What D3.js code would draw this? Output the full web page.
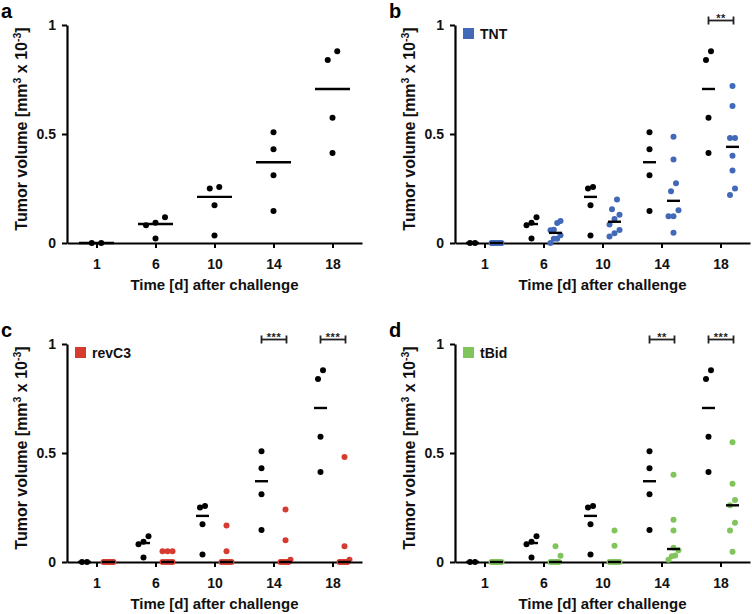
<!DOCTYPE html>
<html>
<head>
<meta charset="utf-8">
<script src="https://cdn.jsdelivr.net/npm/d3@7"></script>
<style>
  html, body { margin: 0; padding: 0; background: #fff; }
  svg { display: block; font-family: "Liberation Sans", Arial, sans-serif; }
</style>
</head>
<body>
<svg id="chart" width="752" height="614"></svg>
<script>
// ---------------- data ----------------
const days = ["1", "6", "10", "14", "18"];
const yTicks = [0, 0.5, 1];
const yTickLabels = ["0", "0.5", "1"];

const control = [
  [0, 0],
  [0.021, 0.081, 0.093, 0.118],
  [0.034, 0.173, 0.25, 0.257],
  [0.147, 0.311, 0.43, 0.508],
  [0.413, 0.574, 0.839, 0.88]
];
const tnt = [
  [0, 0, 0, 0, 0, 0, 0, 0],
  [0, 0.02, 0.02, 0.035, 0.058, 0.061, 0.092, 0.101],
  [0.03, 0.045, 0.06, 0.085, 0.11, 0.13, 0.155, 0.2],
  [0.047, 0.123, 0.123, 0.15, 0.237, 0.274, 0.383, 0.487],
  [0.22, 0.25, 0.332, 0.4, 0.482, 0.482, 0.628, 0.72]
];
const revC3 = [
  [0, 0, 0, 0, 0, 0, 0, 0],
  [0, 0, 0, 0, 0, 0.049, 0.049, 0.049],
  [0, 0, 0, 0, 0, 0, 0.049, 0.167],
  [0, 0, 0, 0, 0, 0.01, 0.1, 0.241],
  [0, 0, 0, 0, 0, 0.01, 0.072, 0.482]
];
const tBid = [
  [0, 0, 0, 0, 0, 0, 0, 0],
  [0, 0, 0, 0, 0, 0, 0.029, 0.072],
  [0, 0, 0, 0, 0, 0, 0.075, 0.145],
  [0.01, 0.026, 0.03, 0.054, 0.065, 0.145, 0.194, 0.4],
  [0.047, 0.144, 0.18, 0.26, 0.284, 0.359, 0.549]
];
const panelLetters = ["a", "b", "c", "d"];
const treatmentNames = [null, "TNT", "revC3", "tBid"];
const treatmentData = [null, tnt, revC3, tBid];
const treatmentColors = [null, "#4169b8", "#d63b30", "#80c55c"];
const significance = [
  [],
  [{ day: "18", label: "**" }],
  [{ day: "14", label: "***" }, { day: "18", label: "***" }],
  [{ day: "14", label: "**" }, { day: "18", label: "***" }]
];
const yTitleMain = "Tumor volume [mm";
const xTitle = "Time [d] after challenge";

// ---------------- layout ----------------
const panelOrigins = [[0, 0], [388, 0], [0, 319], [388, 319]];
const axisLeft = 67, axisRight = 362, axisTop = 25, axisBottom = 243;
const dotR = 3;

const svg = d3.select("#chart");

const x = d3.scalePoint().domain(days).range([axisLeft, axisRight]).padding(0.5);
const y = d3.scaleLinear().domain([0, 1]).range([axisBottom, axisTop]);

// Prism-like row spreading of dots with similar values
function swarm(values, spacing, rowH) {
  const idx = values.map((v, i) => i).sort((a, b) => values[a] - values[b]);
  const rows = [];
  let cur = null;
  idx.forEach(i => {
    const py = y(values[i]);
    if (cur && (cur.start - py) < rowH) cur.items.push(i);
    else { cur = { start: py, items: [i] }; rows.push(cur); }
  });
  const out = [];
  rows.forEach(r => {
    const n = r.items.length;
    const step = n > 1 ? Math.min(spacing, 2 * spacing / (n - 1)) : 0;
    r.items.forEach((i, k) => out.push({ v: values[i], dx: (k - (n - 1) / 2) * step }));
  });
  return out;
}

panelLetters.forEach((letter, p) => {
  const g = svg.append("g").attr("transform", `translate(${panelOrigins[p][0]},${panelOrigins[p][1]})`);
  const single = treatmentData[p] === null;
  const groupOff = single ? 0 : 12;
  const spacing = single ? 9.5 : 5;
  const medW = single ? 35 : 13;

  // panel letter
  g.append("text").attr("x", 1).attr("y", 18)
    .attr("font-size", 20).attr("font-weight", "bold").text(letter);

  // axes
  const xAxis = d3.axisBottom(x).tickSize(5).tickPadding(11).tickSizeOuter(0);
  const yAxis = d3.axisLeft(y).tickValues(yTicks).tickFormat((d, i) => yTickLabels[i])
    .tickSize(5).tickPadding(6).tickSizeOuter(0);

  const gx = g.append("g").attr("transform", `translate(0,${axisBottom})`).call(xAxis);
  const gy = g.append("g").attr("transform", `translate(${axisLeft},0)`).call(yAxis);
  [gx, gy].forEach(a => {
    a.select(".domain").attr("stroke", "#000").attr("stroke-width", 2.2);
    a.selectAll(".tick line").attr("stroke", "#000").attr("stroke-width", 2);
    a.selectAll(".tick text").attr("font-size", 14).attr("font-weight", "bold")
      .attr("fill", "#111").attr("font-family", "Liberation Sans, Arial, sans-serif");
  });

  // axis titles
  g.append("text").attr("x", (axisLeft + axisRight) / 2).attr("y", 290)
    .attr("text-anchor", "middle").attr("font-size", 15).attr("font-weight", "bold")
    .attr("fill", "#111").text(xTitle);

  const yt = g.append("text")
    .attr("transform", `translate(27,${(axisTop + axisBottom) / 2 - 5}) rotate(-90)`)
    .attr("text-anchor", "middle").attr("font-size", 16).attr("font-weight", "bold")
    .attr("fill", "#111");
  yt.append("tspan").text(yTitleMain);
  yt.append("tspan").attr("font-size", 10.5).attr("dy", -6).text("3");
  yt.append("tspan").attr("dy", 6).text(" x 10");
  yt.append("tspan").attr("font-size", 10.5).attr("dy", -6).text("-3");
  yt.append("tspan").attr("dy", 6).text("]");

  // groups
  const groups = [{ data: control, color: "#000", off: -groupOff }];
  if (!single) groups.push({ data: treatmentData[p], color: treatmentColors[p], off: groupOff });

  groups.forEach(grp => {
    grp.data.forEach((vals, di) => {
      const cx = x(days[di]) + grp.off;
      const pts = swarm(vals, spacing, 10);
      g.append("g").selectAll("circle").data(pts).join("circle")
        .attr("cx", d => cx + d.dx).attr("cy", d => y(d.v))
        .attr("r", dotR).attr("fill", grp.color);
    });
  });
  groups.forEach(grp => {
    grp.data.forEach((vals, di) => {
      const cx = x(days[di]) + grp.off;
      const m = d3.median(vals);
      g.append("line")
        .attr("x1", cx - medW / 2).attr("x2", cx + medW / 2)
        .attr("y1", y(m)).attr("y2", y(m))
        .attr("stroke", "#000").attr("stroke-width", 2.4);
    });
  });

  // legend
  if (!single) {
    g.append("rect").attr("x", axisLeft + 8).attr("y", y(1) + 3)
      .attr("width", 11).attr("height", 11).attr("fill", treatmentColors[p]);
    g.append("text").attr("x", axisLeft + 25).attr("y", y(1) + 14)
      .attr("font-size", 14).attr("font-weight", "bold").attr("fill", "#111")
      .text(treatmentNames[p]);
  }

  // significance brackets
  significance[p].forEach(s => {
    const x1 = x(s.day) - 12, x2 = x(s.day) + 13, by = y(1) - 4.5;
    const bg = g.append("g").attr("stroke", "#222").attr("stroke-width", 1.8);
    bg.append("line").attr("x1", x1).attr("x2", x2).attr("y1", by).attr("y2", by);
    bg.append("line").attr("x1", x1).attr("x2", x1).attr("y1", by - 4).attr("y2", by + 4);
    bg.append("line").attr("x1", x2).attr("x2", x2).attr("y1", by - 4).attr("y2", by + 4);
    g.append("text").attr("x", (x1 + x2) / 2).attr("y", by + 1)
      .attr("text-anchor", "middle").attr("font-size", 11).attr("font-weight", "bold")
      .attr("letter-spacing", 0.5).attr("fill", "#222").text(s.label);
  });
});
</script>
</body>
</html>
